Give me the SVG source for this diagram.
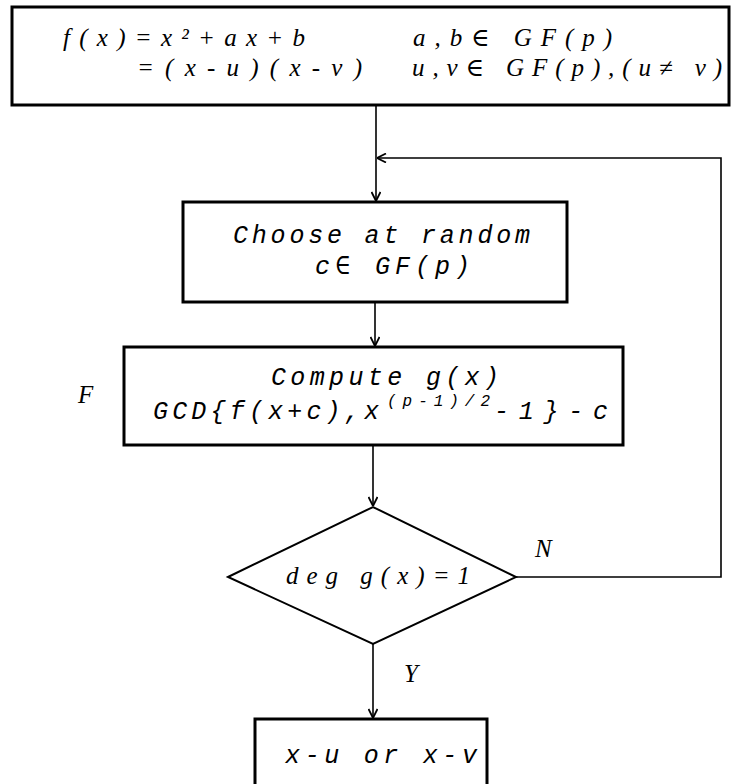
<svg xmlns="http://www.w3.org/2000/svg" width="732" height="784" viewBox="0 0 732 784">
  <style>
    .box { fill: #fff; stroke: #000; stroke-width: 3; }
    .dia { fill: #fff; stroke: #000; stroke-width: 2; }
    .wire { fill: none; stroke: #000; stroke-width: 1.6; }
    .serif { font-family: "Liberation Serif", "DejaVu Serif", serif; font-style: italic; font-size: 25px; fill: #000; }
    .mono { font-family: "Liberation Mono", "DejaVu Sans Mono", monospace; font-style: italic; font-size: 25px; fill: #000; }
    .sup { font-family: "Liberation Mono", "DejaVu Sans Mono", monospace; font-style: italic; font-size: 16px; fill: #000; }
    .lbl { font-family: "Liberation Serif", "DejaVu Serif", serif; font-style: italic; font-size: 25px; fill: #000; }
  </style>
  <defs>
    <marker id="arrow" viewBox="0 0 10 10" refX="10" refY="5" markerWidth="10" markerHeight="10" markerUnits="userSpaceOnUse" orient="auto">
      <path d="M1,0.5 L10,5 L1,9.5" fill="none" stroke="#000" stroke-width="1.8"/>
    </marker>
  </defs>

  <rect width="732" height="784" fill="#fff"/>

  <!-- connectors -->
  <g id="connectors">
    <line class="wire" x1="376" y1="105" x2="376" y2="201" marker-end="url(#arrow)"/>
    <line class="wire" x1="375" y1="302" x2="375" y2="346" marker-end="url(#arrow)"/>
    <line class="wire" x1="373" y1="445" x2="373" y2="506" marker-end="url(#arrow)"/>
    <line class="wire" x1="373" y1="644" x2="373" y2="718" marker-end="url(#arrow)"/>
    <polyline class="wire" points="516,577 721,577 721,158 377,158" marker-end="url(#arrow)"/>
    <text class="lbl" x="535" y="557">N</text>
    <text class="lbl" x="404" y="682">Y</text>
  </g>

  <!-- problem statement -->
  <g id="node-poly">
    <rect class="box" x="12" y="7" width="717" height="98"/>
    <text class="serif" x="63" y="46" textLength="242" lengthAdjust="spacing">f(x)=x²+ax+b</text>
    <text class="serif" x="137" y="76" textLength="225" lengthAdjust="spacing">=(x-u)(x-v)</text>
    <text class="serif" x="413" y="46" textLength="199" lengthAdjust="spacing">a,b∈ GF(p)</text>
    <text class="serif" x="412" y="76" textLength="310" lengthAdjust="spacing">u,v∈ GF(p),(u≠ v)</text>
  </g>

  <!-- random choice -->
  <g id="node-choose">
    <rect class="box" x="183" y="202" width="384" height="100"/>
    <text class="mono" x="233" y="243" textLength="297" lengthAdjust="spacing">Choose at random</text>
    <text class="mono" x="315" y="274" textLength="155" lengthAdjust="spacing">c∈ GF(p)</text>
  </g>

  <!-- gcd computation -->
  <g id="node-compute">
    <rect class="box" x="124" y="347" width="499" height="98"/>
    <text class="mono" x="271" y="385" textLength="228" lengthAdjust="spacing">Compute g(x)</text>
    <text class="mono" x="153" y="419" textLength="226" lengthAdjust="spacing">GCD{f(x+c),x</text>
    <text class="sup" x="387" y="406" textLength="103" lengthAdjust="spacing">(p-1)/2</text>
    <text class="mono" x="494" y="419" textLength="114" lengthAdjust="spacing">-1}-c</text>
  </g>
  <text class="lbl" x="78" y="403">F</text>

  <!-- degree test -->
  <g id="node-test">
    <polygon class="dia" points="228,577 373,507 516,577 373,644"/>
    <text class="serif" x="286" y="584" textLength="184" lengthAdjust="spacing">deg g(x)=1</text>
  </g>

  <!-- result -->
  <g id="node-result">
    <rect class="box" x="255" y="719" width="232" height="80"/>
    <text class="mono" x="285" y="763" textLength="192" lengthAdjust="spacing">x-u or x-v</text>
  </g>
</svg>
